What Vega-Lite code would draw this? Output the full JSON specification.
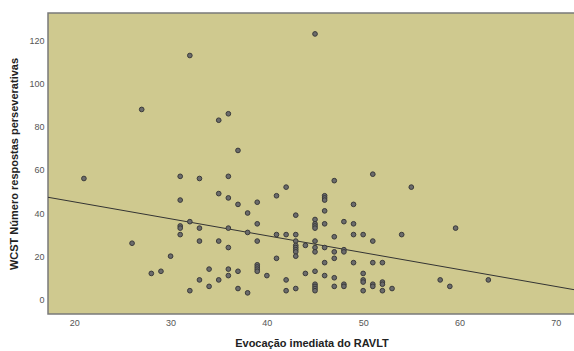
{
  "$schema": "https://vega.github.io/schema/vega-lite/v6.json",
  "width": 527,
  "height": 301,
  "autosize": {"type": "none"},
  "padding": {"left": 48, "top": 13, "right": 0, "bottom": 37},
  "background": "white",
  "config": {
    "font": "Liberation Sans",
    "view": {"fill": "#CFC98F", "stroke": "#7a7a7a", "strokeWidth": 1.5}
  },
  "datasets": {
    "pts": [
      {"x": 32, "y": 113}, {"x": 27, "y": 88}, {"x": 36, "y": 86}, {"x": 35, "y": 83}, {"x": 37, "y": 69}, {"x": 45, "y": 123},
      {"x": 21, "y": 56}, {"x": 26, "y": 26}, {"x": 30, "y": 20}, {"x": 29, "y": 13}, {"x": 28, "y": 12},
      {"x": 31, "y": 57}, {"x": 31, "y": 46}, {"x": 31, "y": 34}, {"x": 31, "y": 33}, {"x": 31, "y": 30},
      {"x": 32, "y": 36}, {"x": 32, "y": 4},
      {"x": 33, "y": 56}, {"x": 33, "y": 33}, {"x": 33, "y": 27}, {"x": 33, "y": 9},
      {"x": 34, "y": 14}, {"x": 34, "y": 6},
      {"x": 35, "y": 49}, {"x": 35, "y": 27}, {"x": 35, "y": 9},
      {"x": 36, "y": 57}, {"x": 36, "y": 47}, {"x": 36, "y": 33}, {"x": 36, "y": 24}, {"x": 36, "y": 14}, {"x": 36, "y": 11},
      {"x": 37, "y": 44}, {"x": 37, "y": 13}, {"x": 37, "y": 5},
      {"x": 38, "y": 40}, {"x": 38, "y": 31}, {"x": 38, "y": 3},
      {"x": 39, "y": 45}, {"x": 39, "y": 35}, {"x": 39, "y": 27}, {"x": 39, "y": 16}, {"x": 39, "y": 15}, {"x": 39, "y": 14}, {"x": 39, "y": 13},
      {"x": 40, "y": 11},
      {"x": 41, "y": 48}, {"x": 41, "y": 30}, {"x": 41, "y": 19},
      {"x": 42, "y": 52}, {"x": 42, "y": 30}, {"x": 42, "y": 9}, {"x": 42, "y": 4},
      {"x": 43, "y": 39}, {"x": 43, "y": 30}, {"x": 43, "y": 27}, {"x": 43, "y": 25}, {"x": 43, "y": 24}, {"x": 43, "y": 23}, {"x": 43, "y": 22}, {"x": 43, "y": 20}, {"x": 43, "y": 5},
      {"x": 44, "y": 25}, {"x": 44, "y": 12},
      {"x": 45, "y": 37}, {"x": 45, "y": 35}, {"x": 45, "y": 34}, {"x": 45, "y": 33}, {"x": 45, "y": 27}, {"x": 45, "y": 24}, {"x": 45, "y": 22}, {"x": 45, "y": 13}, {"x": 45, "y": 7}, {"x": 45, "y": 6}, {"x": 45, "y": 5}, {"x": 45, "y": 4},
      {"x": 46, "y": 48}, {"x": 46, "y": 47}, {"x": 46, "y": 46}, {"x": 46, "y": 41}, {"x": 46, "y": 35}, {"x": 46, "y": 24}, {"x": 46, "y": 17}, {"x": 46, "y": 11},
      {"x": 47, "y": 55}, {"x": 47, "y": 29}, {"x": 47, "y": 22}, {"x": 47, "y": 19}, {"x": 47, "y": 10}, {"x": 47, "y": 6},
      {"x": 48, "y": 36}, {"x": 48, "y": 23}, {"x": 48, "y": 22}, {"x": 48, "y": 7}, {"x": 48, "y": 6},
      {"x": 49, "y": 44}, {"x": 49, "y": 35}, {"x": 49, "y": 30}, {"x": 49, "y": 17},
      {"x": 50, "y": 30}, {"x": 50, "y": 12}, {"x": 50, "y": 9}, {"x": 50, "y": 8}, {"x": 50, "y": 4},
      {"x": 51, "y": 58}, {"x": 51, "y": 27}, {"x": 51, "y": 17}, {"x": 51, "y": 7}, {"x": 51, "y": 6},
      {"x": 52, "y": 17}, {"x": 52, "y": 8}, {"x": 52, "y": 7}, {"x": 52, "y": 4},
      {"x": 53, "y": 5}, {"x": 54, "y": 30}, {"x": 55, "y": 52},
      {"x": 58, "y": 9}, {"x": 59, "y": 6}, {"x": 59.6, "y": 33}, {"x": 63, "y": 9}
    ],
    "fit": [
      {"x": 17.27, "y": 47.3},
      {"x": 72.0, "y": 4.4}
    ]
  },
  "layer": [
    {
      "data": {"name": "fit"},
      "mark": {"type": "line", "color": "#333333", "strokeWidth": 1, "clip": true},
      "encoding": {
        "x": {"field": "x", "type": "quantitative"},
        "y": {"field": "y", "type": "quantitative"}
      }
    },
    {
      "data": {"name": "pts"},
      "mark": {"type": "circle", "fill": "#6b6b6b", "stroke": "#3a3a3a", "strokeWidth": 1, "size": 22, "opacity": 1, "fillOpacity": 1},
      "encoding": {
        "x": {
          "field": "x", "type": "quantitative",
          "scale": {"domain": [17.27, 72.0], "nice": false, "zero": false},
          "axis": {
            "values": [20, 30, 40, 50, 60, 70], "grid": false, "ticks": false, "domain": false,
            "labelFontSize": 9, "labelColor": "#555555", "labelPadding": 4,
            "title": "Evocação imediata do RAVLT", "titleFontSize": 11, "titleFontWeight": "bold",
            "titleColor": "#222222", "titlePadding": 10
          }
        },
        "y": {
          "field": "y", "type": "quantitative",
          "scale": {"domain": [-6.8, 132.7], "nice": false, "zero": false},
          "axis": {
            "values": [0, 20, 40, 60, 80, 100, 120], "grid": false, "ticks": false, "domain": false,
            "labelFontSize": 9, "labelColor": "#555555", "labelPadding": 4,
            "title": "WCST Número respostas perseverativas", "titleFontSize": 11, "titleFontWeight": "bold",
            "titleColor": "#222222", "titlePadding": 9
          }
        }
      }
    }
  ]
}
